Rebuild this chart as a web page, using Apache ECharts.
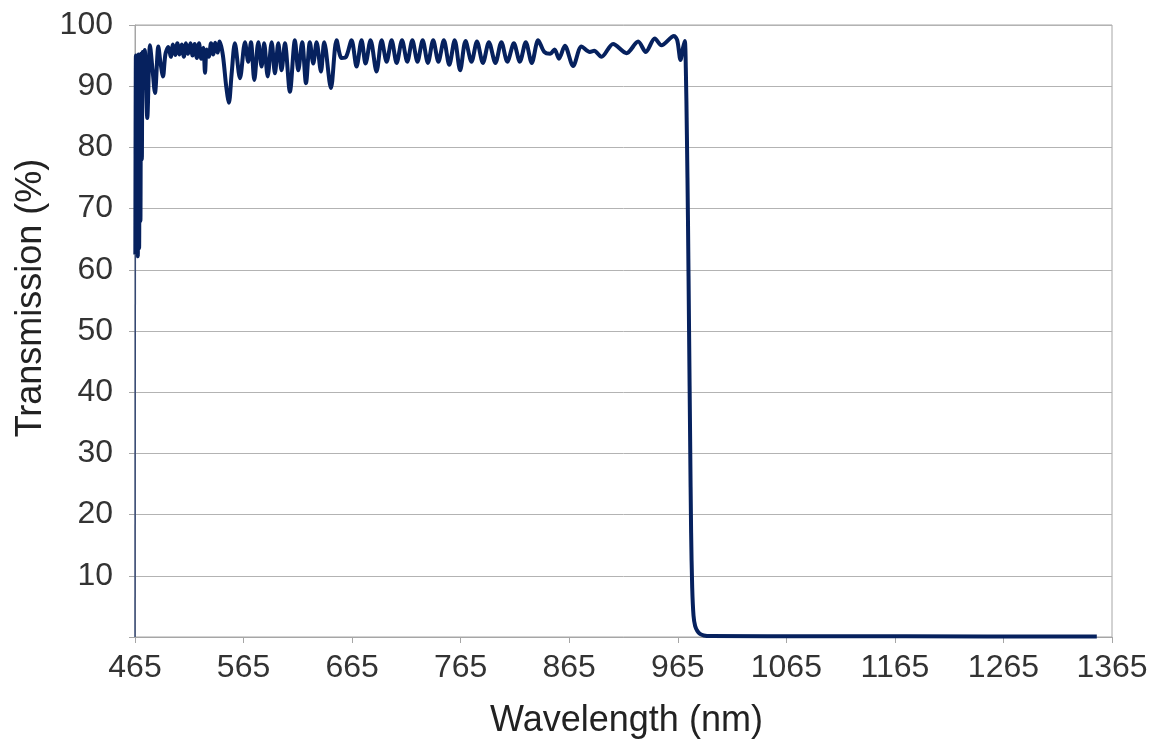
<!DOCTYPE html>
<html>
<head>
<meta charset="utf-8">
<script src="https://cdn.jsdelivr.net/npm/echarts@6/dist/echarts.min.js"></script>
<style>
  html, body { margin: 0; background: #fff; }
  #chart { width: 1156px; height: 749px; }
</style>
</head>
<body>
<div id="chart"></div>
<script>
// [wavelength nm, transmission %]
const rise = [[465, 0], [465.3, 62.5]]

const edge = [
  [465.3, 62.5], [465.8, 95], [466.4, 63], [467.0, 94.5], [467.6, 62.2], [468.2, 95.2],
  [468.8, 63.5], [469.4, 94.8], [470.0, 68], [470.6, 95.3], [471.3, 78], [472.0, 95.6],
  [473.0, 93.5], [474.0, 95.9], [476.3, 84.8], [478.8, 96.7], [481.0, 93.0], [483.4, 88.9],
  [486.5, 96.5], [488.5, 93.8], [490.8, 91.6], [493.0, 95.2], [495.7, 96.4]
]

const blueRipple = [
  [498, 94.8], [500, 96.8], [502, 95.1], [504, 97.0], [506, 95.2], [508, 96.8], [510, 94.8],
  [512, 97.0], [514, 95.3], [516, 97.0], [518, 95.0], [520, 96.9], [522, 94.6], [524, 97.0],
  [526, 94.5], [528, 96.3], [529.5, 92.2], [531, 96.0], [533, 94.8], [535, 97.0], [537, 95.2],
  [539, 97.1], [541, 95.5], [543, 97.3], [546, 95.0], [549, 90.0], [551.5, 87.3], [554, 92.0],
  [557, 97.0], [561.7, 91.3], [566.3, 97.2], [569.3, 94.0], [571.8, 97.2], [574.9, 91.0],
  [578.6, 97.2], [581.6, 93.2], [584, 97.0], [587.2, 91.6], [590.9, 97.2], [593.9, 92.1],
  [597, 97.0], [600, 92.6], [603.1, 97.0], [607.7, 89.1], [612.3, 97.5], [615.4, 92.6],
  [619, 97.2], [622.5, 90.5], [626.1, 97.2], [629.2, 93.7], [632.3, 97.2], [636.3, 92.4],
  [639.3, 97.2], [645.5, 89.7], [650.7, 97.5], [655.3, 94.6], [659.5, 94.8]
]

const midRipple = [
  [664.5, 97.5], [669.1, 93.2], [673.7, 97.5], [677.4, 93.7], [682, 97.5], [687.5, 92.4],
  [692.2, 97.5], [696.8, 94.0], [701.4, 97.5], [706, 93.8], [711, 97.5], [715.8, 94.0],
  [720.5, 97.5], [725.2, 94.0], [730, 97.5], [734.8, 93.8], [739.7, 97.5], [744.5, 94.0],
  [749.5, 97.5], [754.5, 93.5], [759.5, 97.5], [764.5, 92.6], [769.5, 97.4], [775, 94.0],
  [780, 97.3], [785.5, 93.8], [791, 97.2], [797, 93.8], [802.5, 97.2], [808, 94.0],
  [814, 97.0], [819.5, 94.0], [825, 97.2], [830.5, 93.8], [836.4, 97.5]
]

const redRipple = [
  [842, 95.6], [847.5, 95.3], [851.5, 96.0], [855.5, 94.5], [861, 96.6], [868.6, 93.3],
  [876.3, 96.5], [884, 95.6], [888, 95.8], [894.7, 94.8], [905.4, 96.9], [917.8, 95.4],
  [928.5, 97.3], [935.5, 95.6], [943.8, 97.8], [950, 96.7], [961.5, 98.2], [964.5, 97.5],
  [967.5, 94.3], [969.5, 96.0], [971.4, 97.4]
]

const cutoff = [
  [972.4, 93], [973.4, 82], [974.4, 68], [975.4, 50], [976.4, 32], [977.3, 17], [978.3, 8],
  [979.5, 3.5], [981, 1.8], [983, 1.0], [985.5, 0.5], [989, 0.25]
]

const blocking = [[995, 0.15], [1100, 0.12], [1250, 0.1], [1351, 0.1]]

const spectrum = [].concat(edge, blueRipple, midRipple, redRipple, cutoff, blocking)

const font = 'Liberation Sans, Arial, sans-serif'
const gray = '#a6a6a6'
const navy = '#06215e'

const chart = echarts.init(document.getElementById('chart'))
chart.setOption({
  animation: false,
  grid: {
    left: 135,
    right: 44,
    top: 25,
    bottom: 112,
    show: true,
    borderColor: gray,
    borderWidth: 1
  },
  xAxis: {
    type: 'value',
    min: 465,
    max: 1365,
    interval: 100,
    name: 'Wavelength (nm)',
    nameLocation: 'middle',
    nameGap: 66,
    nameTextStyle: { fontSize: 36, color: '#222', fontFamily: font, padding: [0, 0, 0, 6] },
    axisLine: { show: true, lineStyle: { color: gray } },
    axisTick: { show: true, length: 6, lineStyle: { color: gray } },
    axisLabel: {
      fontSize: 32,
      color: '#333',
      margin: 15,
      fontFamily: font,
      formatter: v => String(v)
    },
    splitLine: { show: false }
  },
  yAxis: {
    type: 'value',
    min: 0,
    max: 100,
    interval: 10,
    name: 'Transmission (%)',
    nameLocation: 'middle',
    nameGap: 84,
    // shifted upward along the axis, as in the original figure
    nameTextStyle: { fontSize: 36, color: '#222', fontFamily: font, padding: [0, 0, 0, 66] },
    axisLine: { show: true, lineStyle: { color: gray } },
    axisTick: { show: true, length: 6, lineStyle: { color: gray } },
    axisLabel: {
      fontSize: 32,
      color: '#333',
      margin: 22,
      fontFamily: font,
      formatter: v => (v === 0 ? '' : String(v))
    },
    splitLine: { lineStyle: { color: '#b3b3b3', width: 1 } }
  },
  series: [
    {
      type: 'line',
      data: rise,
      symbol: 'none',
      lineStyle: { width: 1.5, color: navy, opacity: 0.7 }
    },
    {
      type: 'line',
      data: spectrum,
      symbol: 'none',
      smooth: 0.3,
      lineStyle: { width: 4, color: navy, join: 'round' }
    }
  ]
})
</script>
</body>
</html>
